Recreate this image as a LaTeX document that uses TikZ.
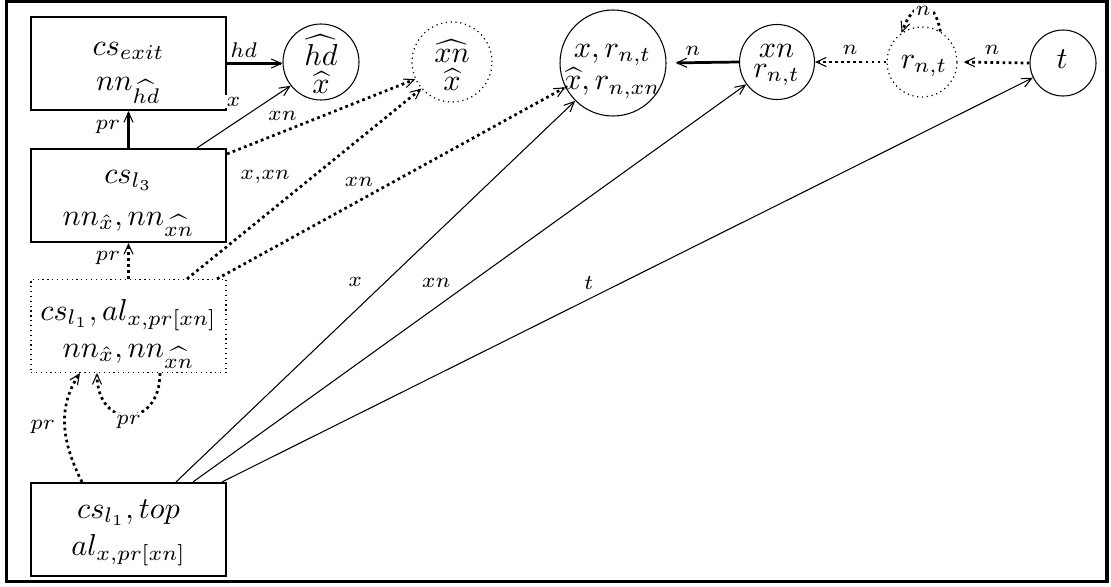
\documentclass[tikz,border=0pt]{standalone}
\usetikzlibrary{arrows.meta}
\def\pxu{0.33pt}
\begin{document}
\begin{tikzpicture}[x=0.33pt,y=-0.33pt,
  boxthick/.style={draw, rectangle, line width=0.7pt, minimum width=195*\pxu, minimum height=93*\pxu, inner sep=0pt},
  boxdot/.style={draw, rectangle, line width=0.4pt, dash pattern=on 0.4pt off 1.2pt, minimum width=195*\pxu, minimum height=93*\pxu, inner sep=0pt},
  circ/.style={draw, circle, line width=0.35pt, inner sep=0pt},
  circdot/.style={draw, circle, inner sep=0pt, line width=0.4pt, dash pattern=on 0.4pt off 1.2pt},
  txt/.style={anchor=base, inner sep=0pt, font=\fontsize{10}{12}\selectfont},
  lbl/.style={inner sep=0.6pt, font=\fontsize{7}{8}\selectfont, fill=white},
  tipped/.style={-{Straight Barb[length=3.3pt,width=3pt,line width=0.35pt]}},
  thinedge/.style={tipped, line width=0.35pt},
  boldedge/.style={tipped, line width=0.9pt},
  dotedge/.style={tipped, line width=0.9pt, dash pattern=on 0.9pt off 1.1pt},
]
\useasboundingbox (0,0) rectangle (1111,586);
\draw[line width=1.1pt] (6.5,1.2) rectangle (1107,581.5);

% boxes
\node[boxthick] (exit) at (128.5,63.5) {};
\node[boxthick] (l3) at (128.5,195.5) {};
\node[boxdot] (l1) at (128.5,326) {};
\node[boxthick] (top) at (128.5,529.5) {};

\node[txt] (exitA) at (128.5,55) {$cs_{exit}$};
\node[txt] (exitB) at (128.5,90) {$nn_{\widehat{hd}}$};
\node[txt] (l3A) at (128.5,183) {$cs_{l_3}$};
\node[txt] (l3B) at (128.5,225) {$nn_{\hat{x}}, nn_{\widehat{xn}}$};
\node[txt] (l1A) at (128.5,320) {$cs_{l_1}, al_{x,pr[xn]}$};
\node[txt] (l1B) at (128.5,357) {$nn_{\hat{x}}, nn_{\widehat{xn}}$};
\node[txt] (topA) at (128.5,518) {$cs_{l_1}, top$};
\node[txt] (topB) at (128.5,555) {$al_{x,pr[xn]}$};

% circles
\node[circ, minimum size=76*\pxu] (hd) at (321,62) {};
\node[circdot, minimum size=80*\pxu] (xnh) at (452,62) {};
\node[circ, minimum size=106*\pxu] (big) at (613,63) {};
\node[circ, minimum size=75*\pxu] (xnr) at (777,62) {};
\node[circdot, minimum size=70*\pxu] (rnt) at (922,62) {};
\node[circ, minimum size=66*\pxu] (t) at (1063,63) {};

\node[txt] (hdA) at (321,65) {$\widehat{hd}$};
\node[txt] (hdB) at (321,93) {$\widehat{x}$};
\node[txt] (xnhA) at (452,62) {$\widehat{xn}$};
\node[txt] (xnhB) at (452,90) {$\widehat{x}$};
\node[txt] (bigA) at (612.5,57) {$x, r_{n,t}$};
\node[txt] (bigB) at (612.5,89.5) {$\widehat{x}, r_{n,xn}$};
\node[txt] (xnrA) at (776.5,57) {$xn$};
\node[txt] (xnrB) at (776.5,77) {$r_{n,t}$};
\node[txt] (rntA) at (924,68) {$r_{n,t}$};
\node[txt] (tA) at (1062,68) {$t$};

% edges
\draw[boldedge] (exit.east) -- (exit.east -| hd.west) node[lbl,pos=0.3,yshift=4.5pt]{$hd$};
\draw[thinedge] ([xshift=68.5*\pxu]l3.north) -- (hd.218) node[lbl,pos=0.39,yshift=7.3pt]{$x$};
\draw[dotedge] ([yshift=-6*\pxu]l3.north east) -- (xnh.205) node[lbl,pos=0.295,yshift=5.1pt]{$xn$};
\draw[dotedge] ([xshift=58.5*\pxu]l1.north) -- (xnh.221) node[lbl,pos=0.534,xshift=-15.5pt]{$x{,}xn$};
\draw[dotedge] ([xshift=88.5*\pxu]l1.north) -- (big.207) node[lbl,pos=0.505,xshift=-11.2pt]{$xn$};
\draw[boldedge] (l3.north) -- (exit.south) node[lbl,pos=0.56,xshift=-6.8pt]{$pr$};
\draw[dotedge] (l1.north) -- (l3.south) node[lbl,pos=0.57,xshift=-6.8pt]{$pr$};
\draw[thinedge] ([xshift=47.5*\pxu]top.north) -- (big.225) node[lbl,pos=0.524,xshift=-9.9pt]{$x$};
\draw[thinedge] ([xshift=64.5*\pxu]top.north) -- (xnr.216) node[lbl,pos=0.501,xshift=-11.2pt]{$xn$};
\draw[thinedge] ([xshift=93.5*\pxu]top.north) -- (t.206) node[lbl,pos=0.493,xshift=-10.9pt]{$t$};

\draw[boldedge, shorten >=3pt] (xnr.west) -- (big.east) node[lbl,pos=0.635,yshift=4pt]{$n$};
\draw[dotedge] (rnt.west) -- (xnr.east) node[lbl,pos=0.51,yshift=4pt]{$n$};
\draw[dotedge, shorten >=2pt] (t.west) -- (rnt.east) node[lbl,pos=0.52,yshift=4pt]{$n$};

% loops
\draw[dotedge] ([xshift=31.5*\pxu]l1.south) to[out=-90,in=-90,looseness=2.3] node[lbl,pos=0.5,yshift=-2pt]{$pr$} ([xshift=-31.5*\pxu]l1.south);
\draw[dotedge] ([xshift=-46.5*\pxu]top.north) to[out=117,in=236,looseness=1] node[lbl,pos=0.5,xshift=-7.3pt]{$pr$} ([xshift=-48.5*\pxu]l1.south);
\draw[dotedge] (rnt.59) to[out=100,in=70,looseness=2.35] node[lbl,pos=0.5,yshift=-1.5pt]{$n$} (rnt.125);
\end{tikzpicture}
\end{document}
